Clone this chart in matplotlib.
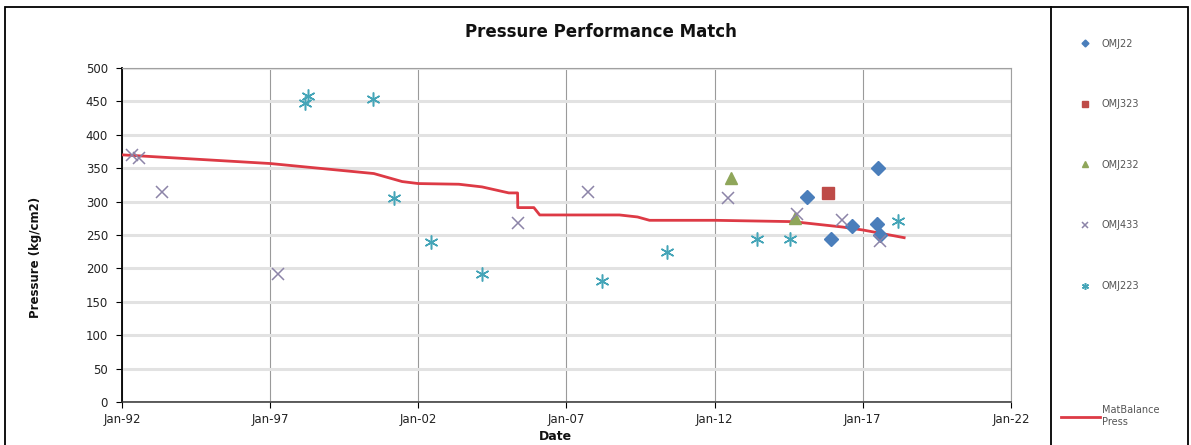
import matplotlib
matplotlib.use("Agg")
import matplotlib.pyplot as plt
import matplotlib.dates as mdates
import pandas as pd
from matplotlib.lines import Line2D
from matplotlib.patches import Rectangle

# Material-balance pressure curve
mb_dates = ["1992-01-01", "1997-01-01", "1998-03-01", "2000-07-01", "2001-06-15",
            "2002-01-01", "2003-05-15", "2004-02-25", "2005-01-20", "2005-05-08",
            "2005-05-10", "2005-11-25", "2006-02-05", "2008-10-15", "2009-05-25",
            "2009-10-20", "2012-01-01", "2014-08-25", "2016-04-20", "2017-01-01",
            "2018-05-25"]
mb_press = [370, 357, 352, 342, 330, 327, 326, 322, 313, 313,
            291, 291, 280, 280, 277, 272, 272, 270, 262, 257.5, 246]

# Measured well pressures
omj22_dates = ["2015-02-15", "2015-12-01", "2016-08-15", "2017-07-01", "2017-06-25", "2017-07-30"]
omj22_press = [307, 243.5, 263.5, 350, 266, 250]

omj323_dates = ["2015-11-01"]
omj323_press = [313]

omj232_dates = ["2012-07-15", "2014-09-15"]
omj232_press = [335, 275]

omj433_dates = ["1992-05-01", "1992-08-01", "1993-05-10", "1997-04-01", "2005-05-15",
                "2007-09-25", "2012-06-10", "2014-10-15", "2016-04-25", "2017-08-05"]
omj433_press = [370, 365, 315, 191, 268.5, 315, 305, 282, 272.5, 241.5]

omj223_dates = ["1998-03-10", "1998-04-10", "2000-06-15", "2001-03-05", "2002-06-05",
                "2004-03-01", "2008-03-10", "2010-05-25", "2013-06-10", "2014-07-15",
                "2018-03-10"]
omj223_press = [448, 458, 453, 306, 240, 191, 181, 225, 243.5, 243.5, 271.5]

x_ticks = ["1992-01-01", "1997-01-01", "2002-01-01", "2007-01-01",
           "2012-01-01", "2017-01-01", "2022-01-01"]

W, H = 1191, 445
fig = plt.figure(figsize=(W / 100, H / 100), dpi=100)
ax = fig.add_axes([122 / W, 1 - 402 / H, (1011 - 122) / W, (402 - 68) / H])

d = pd.to_datetime
ax.plot(d(mb_dates), mb_press, color="#dd3a45", lw=2.0, zorder=3, label="MatBalance\nPress")
ax.plot(d(omj22_dates), omj22_press, ls="none", marker="D", ms=7, color="#4a7ebb",
        mec="#4a7ebb", zorder=4, label="OMJ22")
ax.plot(d(omj323_dates), omj323_press, ls="none", marker="s", ms=9, color="#be4b48",
        zorder=4, label="OMJ323")
ax.plot(d(omj232_dates), omj232_press, ls="none", marker="^", ms=9, color="#8fa65a",
        zorder=4, label="OMJ232")
ax.plot(d(omj433_dates), omj433_press, ls="none", marker="x", ms=9, mew=1.1,
        color="#8c84a8", zorder=4, label="OMJ433")
ax.plot(d(omj223_dates), omj223_press, ls="none", marker=(6, 2, 0), ms=10, mew=1.1,
        color="#45a5b8", zorder=4, label="OMJ223")

ax.set_xlim(d(x_ticks[0]), d(x_ticks[-1]))
ax.set_ylim(0, 500)
ax.set_yticks(range(0, 501, 50))
ax.set_xticks(d(x_ticks))
ax.xaxis.set_major_formatter(mdates.DateFormatter("%b-%y"))

ax.grid(axis="y", color="#e2e2e2", lw=2.2)
ax.grid(axis="x", color="#9a9a9a", lw=0.8)
ax.set_axisbelow(True)
for s in ("top", "right"):
    ax.spines[s].set_color("#a0a0a0")
    ax.spines[s].set_linewidth(0.8)
ax.spines["left"].set_color("black")
ax.spines["left"].set_linewidth(1.3)
ax.spines["bottom"].set_color("#333333")
ax.spines["bottom"].set_linewidth(1.1)
ax.tick_params(axis="y", length=4, pad=6, labelsize=8.5, labelcolor="#222222")
ax.tick_params(axis="x", length=4, pad=4, labelsize=8.5, labelcolor="#222222")

fig.text(601 / W, 1 - 32 / H, "Pressure Performance Match", ha="center", va="center",
         fontsize=12, fontweight="bold", color="#111111")
fig.text(36 / W, 1 - 257 / H, "Pressure (kg/cm2)", ha="center", va="center",
         rotation=90, fontsize=8.5, fontweight="bold", color="#111111")
fig.text(555 / W, 1 - 436 / H, "Date", ha="center", va="center",
         fontsize=9, fontweight="bold", color="#111111")

# chart border and legend separator
fig.patches.append(Rectangle((5 / W, -0.05), (1188 - 5) / W, 0.05 + 1 - 7 / H,
                             transform=fig.transFigure, fill=False, ec="black", lw=1.3))
fig.lines.append(Line2D([1051 / W, 1051 / W], [-0.05, 1 - 7 / H],
                        transform=fig.transFigure, color="black", lw=1.3))

handles, labels = ax.get_legend_handles_labels()
leg1 = fig.legend(handles[1:], labels[1:], loc="upper left",
                  bbox_to_anchor=(1066 / W, 1 - 30 / H), frameon=False, numpoints=1,
                  markerscale=0.5, fontsize=7, labelspacing=5.2, handlelength=2.2,
                  handletextpad=0.6, labelcolor="#555555")
leg2 = fig.legend(handles[:1], labels[:1], loc="center left",
                  bbox_to_anchor=(1052 / W, 1 - 416 / H), frameon=False,
                  fontsize=7, handlelength=4.0, handletextpad=0.2, labelcolor="#555555")

fig.savefig("out.png", dpi=100)
